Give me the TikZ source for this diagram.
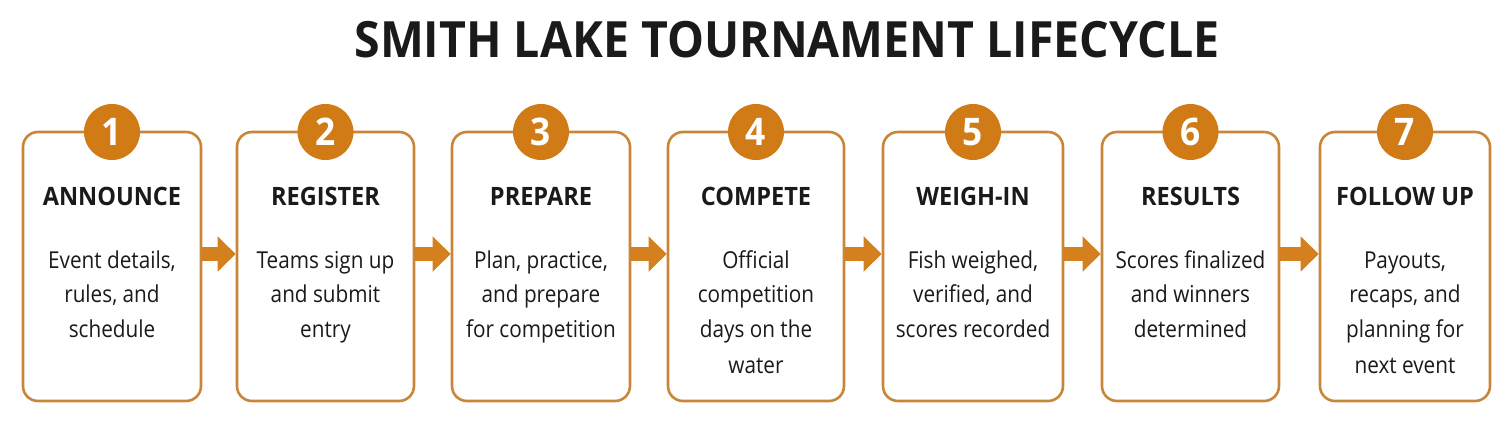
\documentclass[tikz,border=0pt]{standalone}
\usepackage{fontspec}
\setmainfont{Open Sans}
\newfontfamily\bodyfont{Open Sans}[FakeStretch=0.89]
\newfontfamily\headfont{Open Sans}[FakeStretch=0.93]
\usetikzlibrary{arrows.meta}
\definecolor{orng}{RGB}{208,123,22}
\definecolor{boxline}{RGB}{200,134,58}
\definecolor{arrowc}{RGB}{212,128,30}
\definecolor{ink}{RGB}{26,26,26}
\newcommand\bodytext[1]{\parbox[t]{180pt}{\centering\bodyfont\fontsize{23.3}{35}\selectfont #1}}
\begin{document}
\begin{tikzpicture}[x=1pt,y=-1pt,
  stagebox/.style={draw=boxline, line width=2.6pt, rounded corners=15pt, minimum height=269pt, inner sep=0pt, fill=white},
  numdot/.style={circle, fill=orng, minimum size=56pt, inner sep=0pt, text=white, font=\headfont\bfseries\fontsize{38}{38}\selectfont},
  stagetitle/.style={anchor=base, inner sep=0pt, text=ink, font=\headfont\bfseries\fontsize{25.3}{25}\selectfont},
  stagetext/.style={anchor=base, inner sep=0pt, text=ink},
  flow/.style={draw=arrowc, line width=14pt, -{Triangle[length=18pt,width=34pt]}}]
\useasboundingbox[fill=white] (0,0) rectangle (1510,422);

\node[anchor=base, inner sep=0pt, text=ink, font=\headfont\bfseries\fontsize{50}{50}\selectfont] (title) at (787,58) {SMITH LAKE TOURNAMENT LIFECYCLE};

\coordinate (ay) at (0,254);

\node[stagebox, minimum width=178pt] (b1) at (112,266.5) {};
\node[stagebox, minimum width=177pt] (b2) at (325.5,266.5) {};
\node[stagebox, minimum width=178pt] (b3) at (541,266.5) {};
\node[stagebox, minimum width=176pt] (b4) at (756,266.5) {};
\node[stagebox, minimum width=180pt] (b5) at (973,266.5) {};
\node[stagebox, minimum width=177pt] (b6) at (1190.5,266.5) {};
\node[stagebox, minimum width=170pt] (b7) at (1405,266.5) {};

\foreach \i/\x in {1/112,2/325.5,3/541,4/756,5/973,6/1190.5,7/1405}{
  \node[numdot] (n\i) at (\x,132) {\i};
}

\node[stagetitle] (h1) at (112,206) {ANNOUNCE};
\node[stagetitle] (h2) at (325.5,206) {REGISTER};
\node[stagetitle] (h3) at (541,206) {PREPARE};
\node[stagetitle] (h4) at (756,206) {COMPETE};
\node[stagetitle] (h5) at (973,206) {WEIGH-IN};
\node[stagetitle] (h6) at (1190.5,206) {RESULTS};
\node[stagetitle] (h7) at (1405,206) {FOLLOW UP};

\node[stagetext] (t1) at (112,268) {\bodytext{Event details,\\rules, and\\schedule}};
\node[stagetext] (t2) at (325.5,268) {\bodytext{Teams sign up\\and submit\\entry}};
\node[stagetext] (t3) at (541,268) {\bodytext{Plan, practice,\\and prepare\\for competition}};
\node[stagetext] (t4) at (756,268) {\bodytext{Official\\competition\\days on the\\water}};
\node[stagetext] (t5) at (973,268) {\bodytext{Fish weighed,\\verified, and\\scores recorded}};
\node[stagetext] (t6) at (1190.5,268) {\bodytext{Scores finalized\\and winners\\determined}};
\node[stagetext] (t7) at (1405,268) {\bodytext{Payouts,\\recaps, and\\planning for\\next event}};

\draw[flow] (b1.east |- ay) -- (b2.west |- ay);
\draw[flow] (b2.east |- ay) -- (b3.west |- ay);
\draw[flow] (b3.east |- ay) -- (b4.west |- ay);
\draw[flow] (b4.east |- ay) -- (b5.west |- ay);
\draw[flow] (b5.east |- ay) -- (b6.west |- ay);
\draw[flow] (b6.east |- ay) -- (b7.west |- ay);
\end{tikzpicture}
\end{document}
